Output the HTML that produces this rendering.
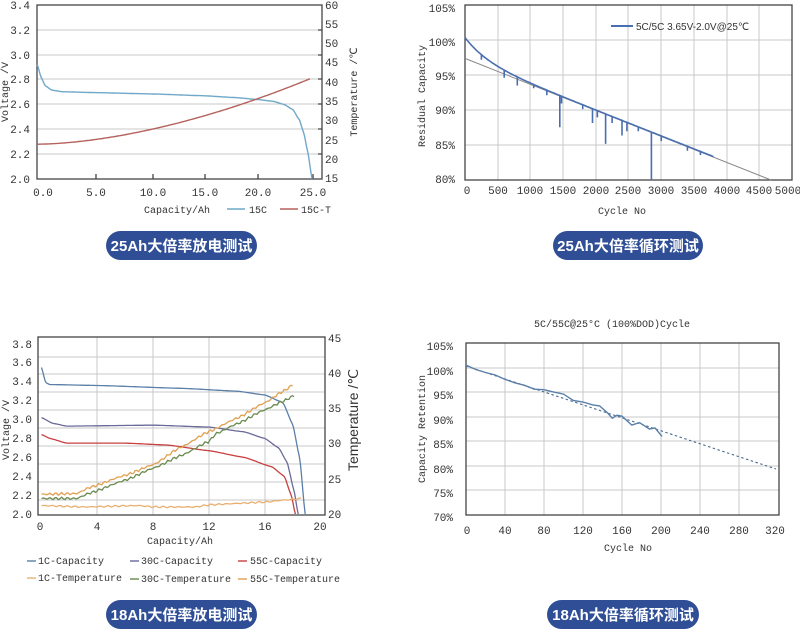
<!DOCTYPE html>
<html><head><meta charset="utf-8"><style>
body{margin:0;background:#fff}
svg{display:block}
text{font-family:"Liberation Mono","DejaVu Sans Mono",monospace;fill:#333}
.t{font-size:11px}
.s{font-size:10px}
.btn{font-family:"Liberation Sans","Noto Sans CJK SC",sans-serif;font-size:15px;font-weight:bold;fill:#fff}
.g{stroke:#c8c8c8;stroke-width:1;fill:none}
.ax{stroke:#444;stroke-width:1.3;fill:none}
</style></head><body>
<svg id="s" width="800" height="629" viewBox="0 0 800 629" xmlns="http://www.w3.org/2000/svg">
<g>
<path class="g" d="M37 30H322M37 55H322M37 79H322M37 104H322M37 129H322M37 154H322"/>
<rect class="ax" x="37" y="5" width="285" height="174"/>
<path class="ax" d="M96 179v-5M153 179v-5M205 179v-5M258 179v-5M313 179v-5M322 30h-4M322 55h-4M322 79h-4M322 104h-4M322 129h-4M322 154h-4"/>
<g class="t" text-anchor="end">
<text x="30" y="9">3.4</text><text x="30" y="34">3.2</text><text x="30" y="59">3.0</text><text x="30" y="83">2.8</text><text x="30" y="108">2.6</text><text x="30" y="133">2.4</text><text x="30" y="158">2.2</text><text x="30" y="183">2.0</text></g>
<g class="t">
<text x="325" y="9">60</text><text x="325" y="28">55</text><text x="325" y="47">50</text><text x="325" y="66">45</text><text x="325" y="86">40</text><text x="325" y="105">35</text><text x="325" y="124">30</text><text x="325" y="144">25</text><text x="325" y="163">20</text><text x="325" y="182">15</text></g>
<g class="t" text-anchor="middle">
<text x="43" y="196">0.0</text><text x="96" y="196">5.0</text><text x="153" y="196">10.0</text><text x="205" y="196">15.0</text><text x="258" y="196">20.0</text><text x="313" y="196">25.0</text></g>
<text class="s" transform="translate(8,92) rotate(-90)" text-anchor="middle">Voltage /V</text>
<text class="s" transform="translate(357,92) rotate(-90)" text-anchor="middle">Temperature  /℃</text>
<text class="s" x="144" y="213">Capacity/Ah</text>
<path d="M227 209h18" stroke="#6fa8c8" stroke-width="1.5"/><text class="s" x="249" y="213">15C</text>
<path d="M280 209h18" stroke="#b5625e" stroke-width="1.5"/><text class="s" x="301" y="213">15C-T</text>
<path id="p1v" fill="none" stroke="#6fa8c8" stroke-width="1.4"/>
<path id="p1t" fill="none" stroke="#b5625e" stroke-width="1.4"/>
<rect x="106" y="231" width="151" height="29" rx="14.5" fill="#2f4e96"/>
<text class="btn" x="181.5" y="251" text-anchor="middle">25Ah大倍率放电测试</text>
</g>
<g>
<path class="g" d="M498 5V180M530 5V180M563 5V180M596 5V180M628 5V180M661 5V180M694 5V180M727 5V180M759 5V180M465 40H792M465 75H792M465 110H792M465 145H792"/>
<rect class="ax" x="465" y="5" width="327" height="175"/>
<g class="t" text-anchor="end">
<text x="455" y="12">105%</text><text x="455" y="46">100%</text><text x="455" y="80">95%</text><text x="455" y="114">90%</text><text x="455" y="149">85%</text><text x="455" y="183">80%</text></g>
<g class="t" text-anchor="middle">
<text x="467" y="194">0</text><text x="498" y="194">500</text><text x="530" y="194">1000</text><text x="563" y="194">1500</text><text x="596" y="194">2000</text><text x="628" y="194">2500</text><text x="661" y="194">3000</text><text x="694" y="194">3500</text><text x="727" y="194">4000</text><text x="759" y="194">4500</text><text x="788" y="194">5000</text></g>
<text class="s" x="622" y="214" text-anchor="middle">Cycle No</text>
<text class="s" transform="translate(425,96) rotate(-90)" text-anchor="middle">Residual Capacity</text>
<path d="M611 26h22" stroke="#4a6fb0" stroke-width="2"/>
<text x="636" y="30" style="font-family:'Liberation Sans',sans-serif;font-size:10px">5C/5C 3.65V-2.0V@25℃</text>
<path d="M465 58.4 L771 180" stroke="#888" stroke-width="1"/>
<path id="p3" fill="none" stroke="#4a6fb0" stroke-width="1.6"/>
<rect x="553" y="231" width="150" height="29" rx="14.5" fill="#2f4e96"/>
<text class="btn" x="628" y="251" text-anchor="middle">25Ah大倍率循环测试</text>
</g>
<g>
<path class="g" d="M97 337V515M153 337V515M209 337V515M265 337V515M38 357H325M38 374H325M38 392H325M38 410H325M38 428H325M38 446H325M38 464H325M38 482H325M38 500H325"/>
<rect class="ax" x="38" y="337" width="287" height="178"/>
<g class="t" text-anchor="end">
<text x="32" y="348">3.8</text><text x="32" y="366">3.6</text><text x="32" y="385">3.4</text><text x="32" y="404">3.2</text><text x="32" y="423">3.0</text><text x="32" y="442">2.8</text><text x="32" y="461">2.6</text><text x="32" y="480">2.4</text><text x="32" y="499">2.2</text><text x="32" y="518">2.0</text></g>
<g class="t">
<text x="328" y="342">45</text><text x="328" y="377">40</text><text x="328" y="412">35</text><text x="328" y="447">30</text><text x="328" y="483">25</text><text x="328" y="518">20</text></g>
<g class="t" text-anchor="middle">
<text x="40" y="530">0</text><text x="97" y="530">4</text><text x="153" y="530">8</text><text x="209" y="530">12</text><text x="265" y="530">16</text><text x="320" y="530">20</text></g>
<text class="s" x="180" y="544" text-anchor="middle">Capacity/Ah</text>
<text class="s" transform="translate(9,430) rotate(-90)" text-anchor="middle">Voltage /V</text>
<text transform="translate(358,420) rotate(-90)" text-anchor="middle" style="font-family:'Liberation Sans',sans-serif;font-size:14px;fill:#333">Temperature  /℃</text>
<g class="s">
<path d="M27 561h9" stroke="#5b7fa8" stroke-width="1.4"/><text x="38" y="564">1C-Capacity</text>
<path d="M130 561h9" stroke="#6a6a9a" stroke-width="1.4"/><text x="141" y="564">30C-Capacity</text>
<path d="M238 561h9" stroke="#c84040" stroke-width="1.4"/><text x="250" y="564">55C-Capacity</text>
<path d="M27 578h9" stroke="#e8b070" stroke-width="1.4"/><text x="38" y="581">1C-Temperature</text>
<path d="M130 579h9" stroke="#6a8a50" stroke-width="1.4"/><text x="141" y="582">30C-Temperature</text>
<path d="M238 579h9" stroke="#e0a050" stroke-width="1.4"/><text x="250" y="582">55C-Temperature</text>
</g>
<path id="q1" fill="none" stroke="#5b7fa8" stroke-width="1.3"/>
<path id="q2" fill="none" stroke="#6a6a9a" stroke-width="1.3"/>
<path id="q3" fill="none" stroke="#c84040" stroke-width="1.3"/>
<path id="q4" fill="none" stroke="#e8b070" stroke-width="1.3"/>
<path id="q5" fill="none" stroke="#6a8a50" stroke-width="1.3"/>
<path id="q6" fill="none" stroke="#e0a050" stroke-width="1.3"/>
<rect x="106" y="600" width="151" height="29" rx="14.5" fill="#2f4e96"/>
<text class="btn" x="181.5" y="620" text-anchor="middle">18Ah大倍率放电测试</text>
</g>
<g>
<text class="s" x="612" y="327" text-anchor="middle">5C/55C@25°C (100%DOD)Cycle</text>
<path class="g" d="M505 343V515M544 343V515M583 343V515M622 343V515M661 343V515M700 343V515M739 343V515M466 368H779M466 392H779M466 417H779M466 441H779M466 466H779M466 490H779"/>
<rect class="ax" x="466" y="343" width="313" height="172"/>
<g class="t" text-anchor="end">
<text x="453" y="350">105%</text><text x="453" y="375">100%</text><text x="453" y="399">95%</text><text x="453" y="424">90%</text><text x="453" y="448">85%</text><text x="453" y="473">80%</text><text x="453" y="497">75%</text><text x="453" y="521">70%</text></g>
<g class="t" text-anchor="middle">
<text x="467" y="534">0</text><text x="505" y="534">40</text><text x="544" y="534">80</text><text x="583" y="534">120</text><text x="622" y="534">160</text><text x="661" y="534">200</text><text x="700" y="534">240</text><text x="739" y="534">280</text><text x="775" y="534">320</text></g>
<text class="s" x="628" y="551" text-anchor="middle">Cycle No</text>
<text class="s" transform="translate(425,429) rotate(-90)" text-anchor="middle">Capacity Retention</text>
<path d="M466 366 L776 469" stroke="#4a6a90" stroke-width="1.1" stroke-dasharray="2.5,2.5" fill="none"/>
<path id="r1" fill="none" stroke="#5a7fa8" stroke-width="1.4"/>
<rect x="547" y="600" width="152" height="29" rx="14.5" fill="#2f4e96"/>
<text class="btn" x="623" y="620" text-anchor="middle">18Ah大倍率循环测试</text>
</g>
</svg>
<script>
function lin(pts,fx,fy){return pts.map((p,i)=>(i?'L':'M')+fx(p[0]).toFixed(1)+' '+fy(p[1]).toFixed(1)).join(' ');}
function interp(k,n,a,b){var o=[];for(var i=0;i<=n;i++){var x=a+(b-a)*i/n;var y;for(var j=0;j<k.length-1;j++){if(x>=k[j][0]&&x<=k[j+1][0]){var t=(x-k[j][0])/(k[j+1][0]-k[j][0]);t=t*t*(3-2*t)*0.3+t*0.7;y=k[j][1]+(k[j+1][1]-k[j][1])*t;break;}}if(y===undefined)y=k[k.length-1][1];o.push([x,y]);}return o;}
var X1=a=>41+a*10.8,V1=v=>179-(v-2)*124.3,T1=t=>179-(t-15)*3.87;
var k1=[[-0.35,2.92],[0,2.82],[0.4,2.75],[1,2.715],[2,2.702],[5,2.695],[10,2.685],[15,2.67],[18,2.655],[20,2.64],[21.5,2.625],[22.5,2.6],[23.3,2.56],[23.9,2.48],[24.3,2.38],[24.7,2.22],[25.1,2.0]];
document.getElementById('p1v').setAttribute('d',lin(interp(k1,300,-0.35,25.1),X1,V1));
var t=[];for(var a=-0.3;a<=25;a+=0.2){t.push([a,24+17*Math.pow((a+0.3)/25.3,1.7)]);}
document.getElementById('p1t').setAttribute('d',lin(t,X1,T1));
var X3=c=>465+c*0.0654,Y3=p=>180-(p-80)*6.95;
var spikes={250:97.3,600:94.7,800:93.6,1050:93.2,1250:92.2,1450:87.6,1475:91,1800:90.2,1950:88.2,2025:89,2150:85.2,2250:88.2,2400:86.4,2475:87,2650:87,2850:80,3000:85.6,3200:85.5,3400:84.2,3600:83.6};
var d='';for(var c=0;c<=3800;c+=25){var p=97.5-c*0.00372+3*Math.exp(-c/350);d+=(c?'L':'M')+X3(c).toFixed(1)+' '+Y3(p).toFixed(1);if(spikes[c]!==undefined){d+='L'+X3(c).toFixed(1)+' '+Y3(spikes[c]).toFixed(1)+'L'+X3(c).toFixed(1)+' '+Y3(p).toFixed(1);}}
document.getElementById('p3').setAttribute('d',d);
var X2=a=>41.5+a*13.95,V2=v=>514-(v-2)*94.5,T2=t=>514-(t-20)*7.04;
function set(id,k,n,a,b,fy,noise){var p=interp(k,n,a,b);if(noise)p=p.map((q,i)=>[q[0],q[1]+noise*Math.sin(i*1.7)+noise*0.6*Math.sin(i*4.3)]);document.getElementById(id).setAttribute('d',lin(p,X2,fy));}
set('q1',[[0,3.55],[0.3,3.39],[0.6,3.37],[4,3.36],[10,3.33],[14,3.3],[16,3.26],[17.3,3.18],[18,2.95],[18.5,2.6],[18.9,2.0]],220,0,18.9,V2);
set('q2',[[0,3.02],[0.8,2.96],[1.8,2.93],[8,2.94],[12,2.92],[14.5,2.87],[16,2.8],[17,2.7],[17.6,2.55],[18.1,2.25],[18.4,2.0]],220,0,18.4,V2);
set('q3',[[0,2.84],[0.6,2.8],[1.8,2.75],[6,2.75],[9,2.73],[12,2.67],[14.5,2.6],[16.5,2.5],[17.4,2.4],[17.9,2.2],[18.2,2.0]],220,0,18.2,V2);
set('q4',[[0,21.2],[3,21],[7,21.2],[8,21],[11,21],[12,21.3],[14,21.5],[16,21.7],[17.5,22],[18.6,22.2]],120,0,18.6,T2,0.08);
set('q5',[[0,22.2],[2.5,22.2],[3.5,23],[6,24.8],[8,26.5],[10,28.3],[12,30.3],[12.5,31.4],[14,32.8],[16,34.8],[17.3,36],[18.1,36.8]],150,0,18.1,T2,0.12);
set('q6',[[0,22.8],[2.5,22.9],[3.5,23.8],[6,25.5],[8,27],[10,29.5],[12,31.7],[14,33.6],[16,35.8],[17.3,37.4],[18,38.3]],150,0,18,T2,0.12);
var X4=c=>466+c*0.975,Y4=p=>515-(p-70)*4.914;
var k4=[[0,100.5],[10,99.6],[20,99],[30,98.5],[40,97.6],[50,96.9],[60,96.4],[70,95.6],[80,95.5],[90,95],[100,94.6],[110,93.3],[120,93],[130,92.4],[137,92.2],[145,90.8],[150,89.7],[155,90.3],[160,90.1],[170,88.3],[178,88.8],[188,87.5],[194,87.7],[201,86]];
document.getElementById('r1').setAttribute('d',lin(k4,X4,Y4));
</script>
</body></html>
